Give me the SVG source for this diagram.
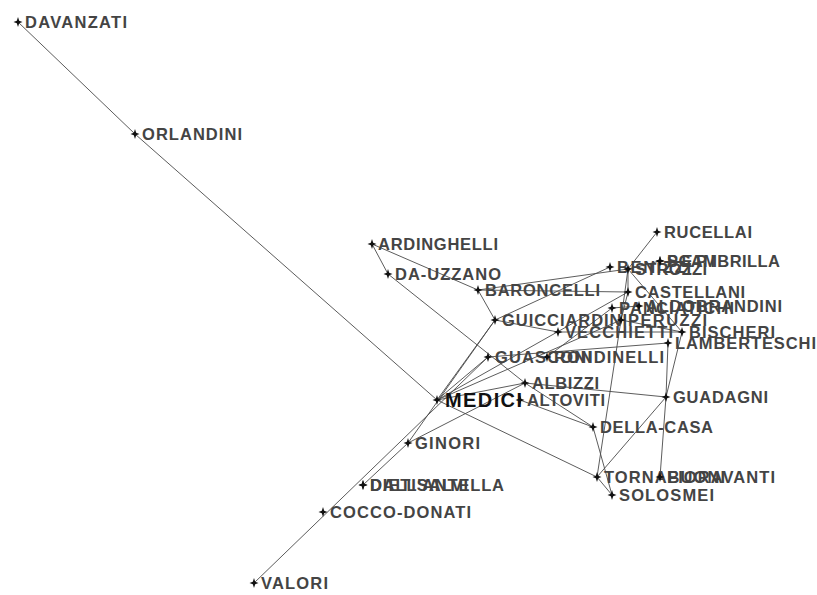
<svg xmlns="http://www.w3.org/2000/svg" xmlns:xlink="http://www.w3.org/1999/xlink" width="817" height="595" viewBox="0 0 817 595">
<style>
.e{stroke:#4a4a4a;stroke-width:0.9;fill:none}
text{font-family:"Liberation Sans",Arial,sans-serif;font-size:16.5px;font-weight:bold;fill:#444;lengthAdjust:spacingAndGlyphs}
.big{font-size:20px;fill:#111}
.mk{fill:#111}
</style>
<defs>
<path id="mk" class="mk" d="M-4.5,0 L-1.2,-1.2 L0,-5 L1.2,-1.2 L4.5,0 L1.2,1.2 L0,5 L-1.2,1.2Z"/>
</defs>
<rect width="817" height="595" fill="#fff"/>
<g id="connectors">
<line class="e" x1="18" y1="22" x2="135" y2="134"/>
<line class="e" x1="135" y1="134" x2="437" y2="400"/>
<line class="e" x1="372" y1="244" x2="388" y2="274"/>
<line class="e" x1="372" y1="244" x2="478" y2="290"/>
<line class="e" x1="388" y1="274" x2="525" y2="383"/>
<line class="e" x1="478" y1="290" x2="495" y2="320"/>
<line class="e" x1="478" y1="290" x2="628" y2="269"/>
<line class="e" x1="478" y1="290" x2="628" y2="292"/>
<line class="e" x1="495" y1="320" x2="610" y2="267"/>
<line class="e" x1="495" y1="320" x2="558" y2="332"/>
<line class="e" x1="495" y1="320" x2="437" y2="400"/>
<line class="e" x1="437" y1="400" x2="488" y2="357"/>
<line class="e" x1="437" y1="400" x2="525" y2="383"/>
<line class="e" x1="437" y1="400" x2="597" y2="477"/>
<line class="e" x1="437" y1="400" x2="621" y2="320"/>
<line class="e" x1="437" y1="400" x2="628" y2="292"/>
<line class="e" x1="657" y1="232" x2="628" y2="269"/>
<line class="e" x1="628" y1="269" x2="628" y2="292"/>
<line class="e" x1="628" y1="269" x2="682" y2="332"/>
<line class="e" x1="628" y1="269" x2="621" y2="320"/>
<line class="e" x1="628" y1="292" x2="621" y2="320"/>
<line class="e" x1="682" y1="332" x2="621" y2="320"/>
<line class="e" x1="682" y1="332" x2="666" y2="397"/>
<line class="e" x1="668" y1="343" x2="666" y2="397"/>
<line class="e" x1="666" y1="397" x2="660" y2="477"/>
<line class="e" x1="525" y1="383" x2="666" y2="397"/>
<line class="e" x1="666" y1="397" x2="597" y2="477"/>
<line class="e" x1="525" y1="383" x2="593" y2="427"/>
<line class="e" x1="593" y1="427" x2="612" y2="495"/>
<line class="e" x1="597" y1="477" x2="612" y2="495"/>
<line class="e" x1="254" y1="583" x2="488" y2="357"/>
<line class="e" x1="363" y1="485" x2="408" y2="443"/>
<line class="e" x1="408" y1="443" x2="525" y2="383"/>
<line class="e" x1="408" y1="443" x2="495" y2="320"/>
<line class="e" x1="488" y1="357" x2="668" y2="343"/>
<line class="e" x1="660" y1="261" x2="628" y2="269"/>
<line class="e" x1="612" y1="308" x2="639" y2="306"/>
<line class="e" x1="621" y1="320" x2="597" y2="477"/>
<line class="e" x1="547" y1="357" x2="612" y2="308"/>
<line class="e" x1="558" y1="332" x2="682" y2="332"/>
<line class="e" x1="520" y1="400" x2="593" y2="427"/>
</g>
<g id="n-davanzati"><use xlink:href="#mk" x="18" y="22"/><text x="25" y="28" textLength="102">DAVANZATI</text></g>
<g id="n-orlandini"><use xlink:href="#mk" x="135" y="134"/><text x="142" y="140" textLength="100">ORLANDINI</text></g>
<g id="n-ardinghelli"><use xlink:href="#mk" x="372" y="244"/><text x="378" y="250" textLength="120">ARDINGHELLI</text></g>
<g id="n-dauzzano"><use xlink:href="#mk" x="388" y="274"/><text x="395" y="280" textLength="106">DA-UZZANO</text></g>
<g id="n-baroncelli"><use xlink:href="#mk" x="478" y="290"/><text x="485" y="296" textLength="115">BARONCELLI</text></g>
<g id="n-guicciardini"><use xlink:href="#mk" x="495" y="320"/><text x="502" y="326" textLength="125">GUICCIARDINI</text></g>
<g id="n-rucellai"><use xlink:href="#mk" x="657" y="232"/><text x="664" y="238" textLength="88">RUCELLAI</text></g>
<g id="n-benizzi"><use xlink:href="#mk" x="610" y="267"/><text x="617" y="273" textLength="74">BENIZZI</text></g>
<g id="n-strozzi"><use xlink:href="#mk" x="628" y="269"/><text x="635" y="275" textLength="72">STROZZI</text></g>
<g id="n-pepi"><use xlink:href="#mk" x="660" y="261"/><text x="667" y="267" textLength="48">PEPI</text></g>
<g id="n-scambrilla"><use xlink:href="#mk" x="660" y="261"/><text x="667" y="267" textLength="113">SCAMBRILLA</text></g>
<g id="n-castellani"><use xlink:href="#mk" x="628" y="292"/><text x="635" y="298" textLength="110">CASTELLANI</text></g>
<g id="n-panciatichi"><use xlink:href="#mk" x="612" y="308"/><text x="619" y="314" textLength="115">PANCIATICHI</text></g>
<g id="n-aldobrandini"><use xlink:href="#mk" x="639" y="306"/><text x="646" y="312" textLength="136">ALDOBRANDINI</text></g>
<g id="n-peruzzi"><use xlink:href="#mk" x="621" y="320"/><text x="628" y="326" textLength="79">PERUZZI</text></g>
<g id="n-vecchietti"><use xlink:href="#mk" x="558" y="332"/><text x="565" y="338" textLength="108">VECCHIETTI</text></g>
<g id="n-bischeri"><use xlink:href="#mk" x="682" y="332"/><text x="689" y="338" textLength="86">BISCHERI</text></g>
<g id="n-lamberteschi"><use xlink:href="#mk" x="668" y="343"/><text x="675" y="349" textLength="141">LAMBERTESCHI</text></g>
<g id="n-guasconi"><use xlink:href="#mk" x="488" y="357"/><text x="495" y="363" textLength="97">GUASCONI</text></g>
<g id="n-rondinelli"><use xlink:href="#mk" x="547" y="357"/><text x="554" y="363" textLength="110">RONDINELLI</text></g>
<g id="n-albizzi"><use xlink:href="#mk" x="525" y="383"/><text x="532" y="389" textLength="67">ALBIZZI</text></g>
<g id="n-altoviti"><use xlink:href="#mk" x="520" y="400"/><text x="527" y="406" textLength="78">ALTOVITI</text></g>
<g id="n-medici"><use xlink:href="#mk" x="437" y="400"/><text class="big" x="445" y="407" textLength="77">MEDICI</text></g>
<g id="n-guadagni"><use xlink:href="#mk" x="666" y="397"/><text x="673" y="403" textLength="95">GUADAGNI</text></g>
<g id="n-dellacasa"><use xlink:href="#mk" x="593" y="427"/><text x="600" y="433" textLength="113">DELLA-CASA</text></g>
<g id="n-ginori"><use xlink:href="#mk" x="408" y="443"/><text x="415" y="449" textLength="65">GINORI</text></g>
<g id="n-dallantella"><use xlink:href="#mk" x="363" y="485"/><text x="370" y="491" textLength="134">DALL'ANTELLA</text></g>
<g id="n-dietisalvi"><use xlink:href="#mk" x="363" y="485"/><text x="370" y="491" textLength="98">DIETISALVI</text></g>
<g id="n-coccodonati"><use xlink:href="#mk" x="323" y="512"/><text x="330" y="518" textLength="141">COCCO-DONATI</text></g>
<g id="n-valori"><use xlink:href="#mk" x="254" y="583"/><text x="261" y="589" textLength="67">VALORI</text></g>
<g id="n-tornabuoni"><use xlink:href="#mk" x="597" y="477"/><text x="604" y="483" textLength="121">TORNABUONI</text></g>
<g id="n-fioravanti"><use xlink:href="#mk" x="660" y="477"/><text x="667" y="483" textLength="108">FIORAVANTI</text></g>
<g id="n-solosmei"><use xlink:href="#mk" x="612" y="495"/><text x="619" y="501" textLength="95">SOLOSMEI</text></g>
</svg>
